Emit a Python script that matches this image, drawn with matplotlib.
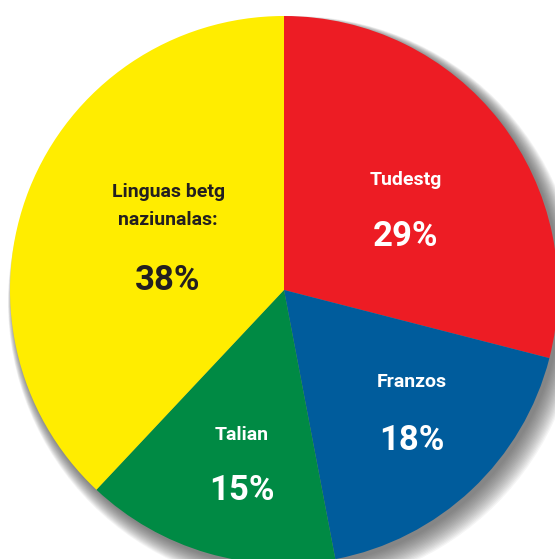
import matplotlib
matplotlib.use("Agg")
import matplotlib.pyplot as plt
from matplotlib.patches import Circle

# data
shares = [29, 18, 15, 38]
colors = ["#ED1C24", "#005C9C", "#008A44", "#FFED00"]
names = ["Tudestg", "Franzos", "Talian", "Linguas betg\nnaziunalas:"]
text_colors = ["white", "white", "white", "#231F20"]

W, H = 555, 559
cx, cy, r = 284, H - 290, 274

fig = plt.figure(figsize=(W / 100, H / 100), dpi=100)
ax = fig.add_axes([0, 0, 1, 1])

# soft drop shadow, mostly lower right
for i in range(18):
    ax.add_patch(Circle((cx + 10 - i * 0.4, cy - 12 + i * 0.5), r + 12 - i * 0.7,
                        color="#404040", alpha=0.05, lw=0, zorder=0))

ax.pie(shares, colors=colors, startangle=90, counterclock=False,
       center=(cx, cy), radius=r, frame=True,
       wedgeprops=dict(linewidth=0))

fam = ["Roboto", "DejaVu Sans"]
# label positions in pixels (x, y of name, y of percent)
lab_pos = [(406, 180, 237), (412, 382, 440), (242, 435, 491), (168, 206, 281)]
for nm, pct, tc, (x, y1, y2) in zip(names, shares, text_colors, lab_pos):
    ax.text(x, H - y1, nm, ha="center", va="center", color=tc,
            fontsize=14, fontweight="bold", family=fam, linespacing=1.65)
    ax.text(x, H - y2, f"{pct}%", ha="center", va="center", color=tc,
            fontsize=25, fontweight="bold", family=fam)

ax.set_xlim(0, W)
ax.set_ylim(0, H)
ax.set_aspect("auto")
ax.axis("off")

fig.savefig("out.png", dpi=100)
